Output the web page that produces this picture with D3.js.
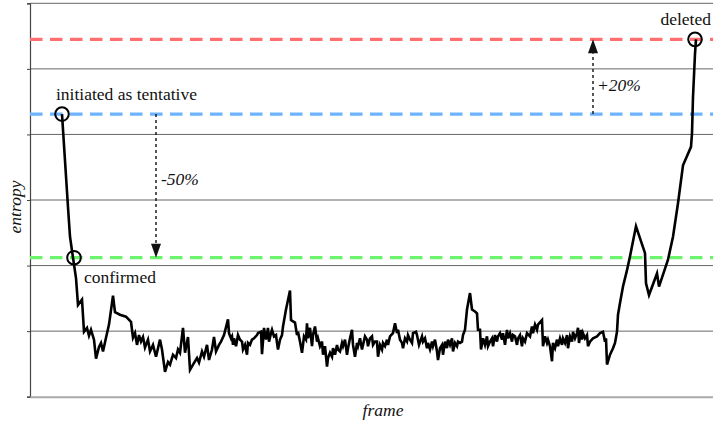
<!DOCTYPE html>
<html>
<head>
<meta charset="utf-8">
<script src="https://cdn.jsdelivr.net/npm/d3@7"></script>
<style>
  html, body { margin: 0; padding: 0; background: #fff; }
  svg { display: block; }
</style>
</head>
<body>
<svg id="chart" width="713" height="423"></svg>
<script>
// Track entropy over frames
const frames = [16,19,20,21.5,23,24,26,27,28.5,29.5,30.5,32,33,34.5,35.5,36.5,38,39.5,41.5,42.5,45,48,50.5,51.5,52.5,53.5,54.5,55.5,56.5,57.5,59,60,61.5,63,65,66,67.5,69,70,71.5,73,74,75,76.5,77.5,79,80,81.5,83.5,84.5,86,87,88.5,89.5,91,92,93,94.5,95.5,97,99,
99.5,100.5,101,101.5,102,103,104,105,106,106.5,107.5,108.5,109,110,111,112,113.5,114,115.5,116,117,118,119,119.5,120.5,121,122,123,123.5,124,125,126,126.5,128,130,130.5,131.5,132.5,133.5,134,135,136,136.5,137,138,138.5,139,140,141,141.5,142.5,143.5,144,145,146,146.5,147.5,148.5,149,150,151,151.5,152.5,153.5,154,155,156,156.5,157.5,158.5,159,160,161,161.5,162.5,163.5,164,165,166,166.5,167.5,168.5,169,170,171,171.5,172.5,
173.5,174,175,176,176.5,177.5,178.5,179,180,181.5,182.5,183.5,184,185,186,186.5,187.5,188.5,189,190,191,191.5,193,193.5,194.5,196,196.5,197.5,198.5,199,200,201,201.5,202.5,203.5,204,205,206,206.5,207.5,208.5,209,210,211,211.5,212.5,213.5,214,215,216,216.5,217.5,218.5,220,221,222.5,223.5,224,225,225.5,226.5,227.5,228.5,229,230,231,231.5,232.5,233.5,234,235,236,236.5,237.5,238.5,239,240,241,241.5,242.5,243.5,244,245,246,246.5,247.5,248.5,
250,251,251.5,252.5,253.5,254,256,256.5,257.5,258.5,259,260,261,261.5,262.5,263.5,264,265,266,266.5,267.5,268.5,269,270,271,271.5,272.5,273.5,274,274.5,275.5,276,276.5,277.5,278.5,279,280,281.5,283.5,285,286.5,287.5,288,288.5,290,291.5,292.5,293.5,294,295,296.5,298.5,300,303,307.5,308,309.5,313.5,314.5,319,321.5,324,326.5,330.5,331,331.5,332.5,333];

const entropy = [43.1,28.9,24.4,21.2,18.1,14.0,14.8,9.9,10.5,9.3,10.2,8.7,5.8,7.6,8.2,6.9,9.0,11.0,15.4,12.9,12.5,12.2,11.4,9.0,9.7,7.9,9.4,8.4,9.1,7.5,8.7,6.9,7.9,6.1,8.7,7.2,3.8,5.3,4.9,6.4,5.9,7.2,6.7,10.5,6.7,9.1,4.1,4.9,5.9,5.2,6.9,6.1,7.9,5.6,7.2,9.1,6.9,7.9,8.4,9.4,11.8,
9.7,8.9,9.2,7.9,8.9,7.7,9.4,8.7,8.4,7.2,7.9,6.4,8.2,7.9,8.7,8.9,9.4,9.7,9.9,6.5,10.5,8.7,10.5,8.4,9.7,10.2,9.2,9.4,8.2,7.2,8.7,9.4,10.7,13.3,16.2,11.7,11.5,11.3,9.4,9.9,8.4,6.7,7.9,9.2,8.7,11.2,8.9,10.5,7.7,9.4,10.7,8.4,8.9,7.7,8.4,6.4,7.7,4.6,5.9,6.7,6.1,7.4,6.4,7.9,7.2,6.9,8.2,7.7,8.7,6.4,7.4,8.9,10.2,7.9,6.1,8.2,7.7,8.9,7.2,7.9,9.2,8.7,7.7,8.9,9.2,7.9,8.4,
8.4,6.1,7.9,7.2,8.2,7.7,8.7,7.9,9.2,9.7,11.2,9.7,10.2,8.7,8.2,7.4,8.9,8.4,9.4,8.7,8.2,9.7,9.9,9.4,7.9,9.2,8.4,8.9,7.4,8.2,7.2,8.4,7.7,8.7,6.9,5.6,7.4,7.9,6.4,8.4,7.4,8.7,7.9,8.9,6.9,8.2,7.7,8.4,8.2,8.4,9.4,10.2,13.3,15.8,13.3,13.0,12.7,10.2,10.2,7.2,8.9,7.9,9.2,7.7,8.4,8.9,7.7,9.4,8.4,9.2,9.7,8.7,9.7,7.9,10.2,8.9,9.7,8.4,9.4,9.2,7.9,8.9,9.4,7.7,8.9,8.4,9.7,
9.2,10.7,9.7,11.0,10.2,11.0,11.7,7.7,9.2,8.2,8.7,7.7,5.4,8.2,7.4,8.7,7.7,8.9,7.9,8.9,8.2,9.4,7.4,9.2,8.4,9.9,8.9,9.7,10.5,8.2,10.2,8.7,9.7,8.9,9.4,7.7,8.4,8.9,9.2,9.7,9.9,8.4,8.9,4.9,6.4,7.4,8.2,9.9,12.5,14.3,16.8,19.3,21.4,26.0,21.9,17.3,15.5,18.8,16.8,20.9,24.4,29.5,35.3,38.1,40.2,45.7,52.3,54.5];

// Track state thresholds
const thresholdNames = ["deleted", "tentative", "confirmed"];
const thresholdValues = [54.5, 43.1, 21.2];
const thresholdColors = ["#ff6f6f", "#6db3ff", "#6cf46c"];

// State-change events on the track
const eventLabels = ["initiated as tentative", "confirmed", "deleted"];
const eventFrames = [16, 22, 332.5];
const eventValues = [43.1, 21.2, 54.5];

// Relative-change annotations
const changeLabels = ["-50%", "+20%"];
const changeFrames = [63, 281.5];
const changeFrom = [43.1, 43.1];
const changeTo = [21.2, 54.5];

const yTicks = [0, 10, 20, 30, 40, 50, 60];

const FONT = "'Liberation Serif', 'Times New Roman', Times, serif";
const FONT_SIZE = 17.5;
const svg = d3.select("#chart");
const plotLeft = 30, plotTop = 3.3, plotBottom = 396.7, plotRight = 713;

const x = d3.scaleLinear().domain([0, 345]).range([plotLeft, 720]);
const y = d3.scaleLinear().domain([0, 60]).range([plotBottom, plotTop]);

function label(px, py, str, italic) {
  return svg.append("text")
    .attr("x", px).attr("y", py)
    .attr("font-family", FONT)
    .attr("font-size", FONT_SIZE)
    .attr("font-style", italic ? "italic" : "normal")
    .attr("fill", "#111")
    .text(str);
}

// horizontal grid
svg.append("g")
  .selectAll("line")
  .data(yTicks.slice(1))
  .join("line")
  .attr("x1", plotLeft).attr("x2", plotRight)
  .attr("y1", d => y(d)).attr("y2", d => y(d))
  .attr("stroke", "#666").attr("stroke-width", 1);

// y axis: ticks without labels
const yAxis = d3.axisLeft(y).tickValues(yTicks).tickSize(3).tickFormat("");
const gy = svg.append("g").attr("transform", `translate(${plotLeft},0)`).call(yAxis);
gy.select(".domain").attr("stroke", "#444").attr("stroke-width", 1.2);
gy.selectAll(".tick line").attr("stroke", "#444");

// x axis baseline
const xAxis = d3.axisBottom(x).tickValues([]).tickSizeOuter(0);
const gx = svg.append("g").attr("transform", `translate(0,${plotBottom})`).call(xAxis);
gx.select(".domain").attr("stroke", "#aaa").attr("stroke-width", 2);

// threshold lines
svg.append("g")
  .selectAll("line")
  .data(thresholdValues)
  .join("line")
  .attr("x1", plotLeft).attr("x2", plotRight)
  .attr("y1", d => y(d)).attr("y2", d => y(d))
  .attr("stroke", (d, i) => thresholdColors[i])
  .attr("stroke-width", 3.3)
  .attr("stroke-dasharray", "12.5,7.5");

// change arrows
const arrows = svg.append("g");
changeLabels.forEach((lab, i) => {
  const ax = x(changeFrames[i]);
  const y0 = y(changeFrom[i]), y1 = y(changeTo[i]);
  const dir = y1 > y0 ? 1 : -1;
  const headLen = 14, headW = 5;
  arrows.append("line")
    .attr("x1", ax).attr("x2", ax)
    .attr("y1", y0).attr("y2", y1 - dir * headLen)
    .attr("stroke", "#111").attr("stroke-width", 1.4)
    .attr("stroke-dasharray", "3,3");
  arrows.append("path")
    .attr("d", `M${ax},${y1} L${ax - headW},${y1 - dir * headLen} L${ax + headW},${y1 - dir * headLen} Z`)
    .attr("fill", "#111");
});
label(x(changeFrames[0]) + 5, 185, changeLabels[0], true);
label(x(changeFrames[1]) + 4, 91, changeLabels[1], true);

// entropy trace
const n = Math.min(frames.length, entropy.length);
const pts = d3.range(n).map(i => [frames[i], entropy[i]]);
svg.append("path")
  .datum(pts)
  .attr("fill", "none")
  .attr("stroke", "#000")
  .attr("stroke-width", 2.6)
  .attr("stroke-linejoin", "miter")
  .attr("d", d3.line().x(d => x(d[0])).y(d => y(d[1])));

// event markers
svg.append("g")
  .selectAll("circle")
  .data(eventFrames)
  .join("circle")
  .attr("cx", d => x(d))
  .attr("cy", (d, i) => y(eventValues[i]))
  .attr("r", 6.8)
  .attr("fill", "none")
  .attr("stroke", "#000")
  .attr("stroke-width", 2);

// event labels (the last one is kept inside the right edge)
label(56, 100, eventLabels[0], false);
label(84, 283, eventLabels[1], false);
label(711, 25, eventLabels[2], false).attr("text-anchor", "end");

// axis titles
label(383, 416, "frame", true).attr("text-anchor", "middle");
label(0, 0, "entropy", true)
  .attr("transform", "translate(20.5,207) rotate(-90)")
  .attr("text-anchor", "middle");
</script>
</body>
</html>
